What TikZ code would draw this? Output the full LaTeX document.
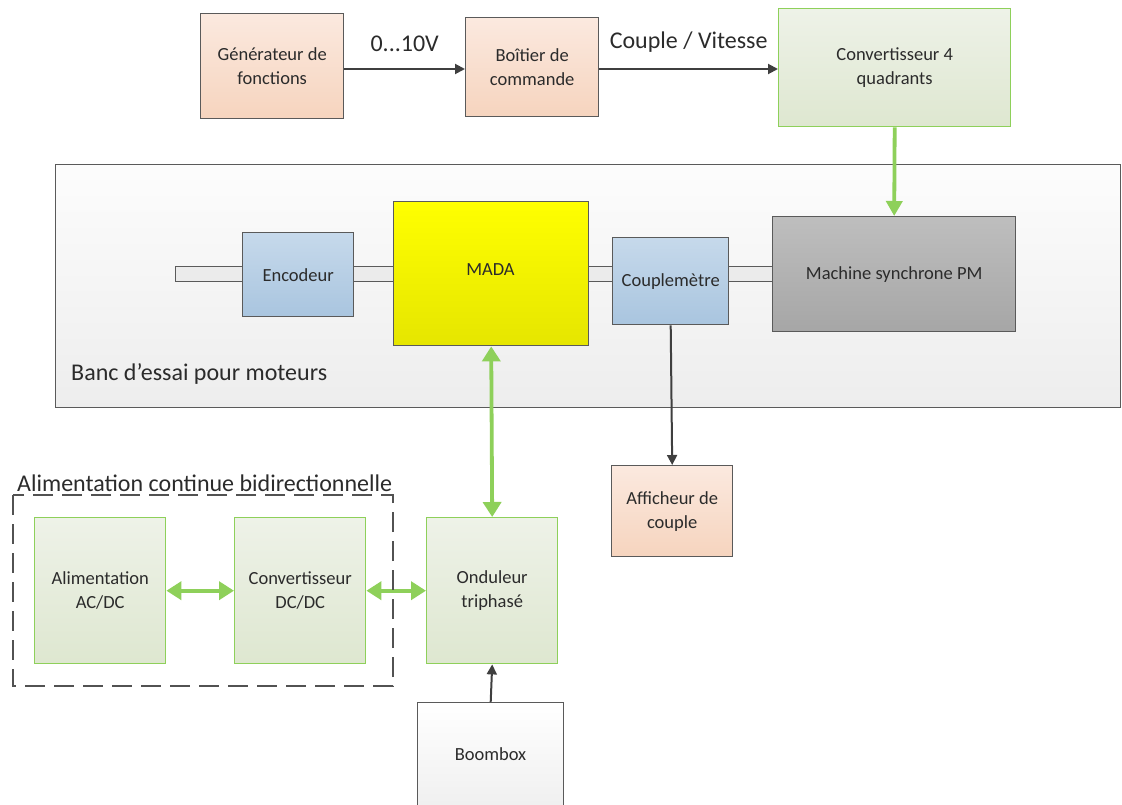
\documentclass[tikz,border=0pt]{standalone}
\usepackage{fontspec}
\setmainfont{Carlito}
\usetikzlibrary{arrows.meta}
\definecolor{txt}{HTML}{2B2B2B}
\definecolor{bord}{HTML}{5A5A5A}
\definecolor{grn}{HTML}{8ED05A}
\definecolor{darr}{HTML}{3F3F3F}
\definecolor{peachT}{HTML}{FBE9DF}
\definecolor{peachB}{HTML}{F6D4BE}
\definecolor{blueT}{HTML}{C6D9EB}
\definecolor{blueB}{HTML}{A9C5DF}
\definecolor{grnT}{HTML}{EEF2E8}
\definecolor{grnB}{HTML}{DEE7D0}
\definecolor{grayT}{HTML}{BEBEBE}
\definecolor{grayB}{HTML}{A6A6A6}
\tikzset{
  base/.style={rectangle, draw=bord, line width=1.4pt, text=txt, align=center, inner sep=2pt, anchor=north west, font=\fontsize{18.5}{24}\selectfont},
  peach/.style={base, top color=peachT, bottom color=peachB},
  blue/.style={base, top color=blueT, bottom color=blueB},
  gbox/.style={base, draw=grn, top color=grnT, bottom color=grnB},
  ybox/.style={base, top color=yellow, bottom color=yellow!90!black},
  gray/.style={base, top color=grayT, bottom color=grayB},
  wbox/.style={base, top color=white, bottom color=black!7},
  bench/.style={base, top color=white!99!black, bottom color=black!7},
  shaft/.style={rectangle, draw=bord, line width=1.2pt, fill=black!8, anchor=north west, inner sep=0pt},
  darrow/.style={draw=darr, line width=2pt, -{Triangle[length=10pt,width=10pt]}},
  garrow/.style={draw=grn, line width=3.8pt, -{Triangle[length=15pt,width=16pt]}},
  gdarrow/.style={draw=grn, line width=3.8pt, {Triangle[length=15pt,width=18pt]}-{Triangle[length=15pt,width=18pt]}},
  lbl/.style={text=txt, font=\fontsize{24}{28}\selectfont, inner sep=0pt},
}
\begin{document}
\begin{tikzpicture}[x=1pt,y=-1pt]
\useasboundingbox (0,0) rectangle (1122,805);
\clip (0,0) rectangle (1122,805);
% top row
\node[peach, minimum width=143pt, minimum height=105pt] (gen) at (200,13) {Générateur de\\fonctions};
\node[peach, minimum width=133pt, minimum height=99pt] (boit) at (465,17) {Boîtier de\\commande};
\node[gbox, minimum width=232pt, minimum height=118pt] (conv) at (778,8) {Convertisseur 4\\quadrants};
\draw[darrow] (gen.east |- 0,69) -- (boit.west |- 0,69) node[lbl, midway, above=16pt] (l1) {0...10V};
\draw[darrow] (boit.east |- 0,69) -- (conv.west |- 0,69) node[lbl, midway, above=16pt] (l2) {Couple / Vitesse};
% bench
\node[bench, minimum width=1065pt, minimum height=243pt] (banc) at (55,164) {};
\node[lbl, anchor=west] (banclbl) at (71,374) {Banc d’essai pour moteurs};
\node[shaft, minimum width=597pt, minimum height=15pt] (shaft) at (175,266) {};
\node[blue, minimum width=111pt, minimum height=84pt] (enc) at (242,232) {Encodeur};
\node[ybox, minimum width=195pt, minimum height=144pt, anchor=north west] (mada) at (393,201) {};
\node[text=txt, font=\fontsize{18.5}{24}\selectfont] (madalbl) at (490.5,270) {MADA};
\node[blue, minimum width=116pt, minimum height=87pt] (coup) at (612,237) {Couplemètre};
\node[gray, minimum width=243pt, minimum height=115pt] (mach) at (772,216) {Machine synchrone PM};
\draw[garrow] (conv.south) -- (mach.north);
\node[peach, minimum width=121pt, minimum height=91pt] (aff) at (611,465) {Afficheur de\\couple};
\draw[darrow] (coup.south) -- (aff.north);
% bottom
\node[lbl, anchor=south west] (alimlbl) at (17,492) {Alimentation continue bidirectionnelle};
\node[gbox, minimum width=131pt, minimum height=146pt] (acdc) at (34,517) {Alimentation\\AC/DC};
\node[gbox, minimum width=131pt, minimum height=146pt] (dcdc) at (234,517) {Convertisseur\\DC/DC};
\node[gbox, minimum width=131pt, minimum height=146pt] (ond) at (426,517) {Onduleur\\triphasé};
\draw[gdarrow] (acdc.east) -- (dcdc.west);
\draw[gdarrow] (dcdc.east) -- (ond.west);
\draw[gdarrow] (mada.south) -- (ond.north);
\draw[draw=darr!90, line width=2.2pt, dash pattern=on 20pt off 9pt] (13,495) rectangle (393,686);
\node[wbox, minimum width=146pt, minimum height=120pt] (boom) at (417,702) {};
\node[text=txt, font=\fontsize{18.5}{24}\selectfont] (boomlbl) at (490.5,754) {Boombox};
\draw[darrow] (boom.north) -- (ond.south);
\end{tikzpicture}
\end{document}
